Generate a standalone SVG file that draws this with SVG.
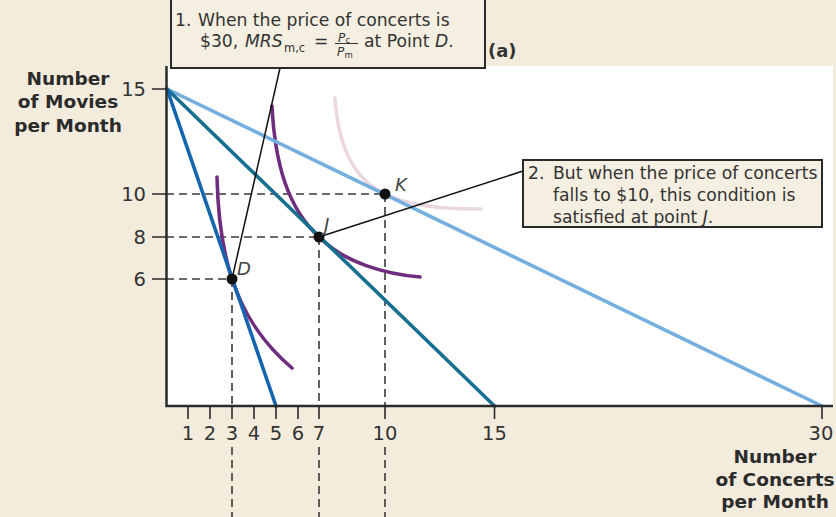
<svg xmlns="http://www.w3.org/2000/svg" width="836" height="517" viewBox="0 0 836 517">
<defs>
<style>
.txt{font-family:"DejaVu Sans","Open Sans","Liberation Sans",sans-serif;fill:#333;}
.call{font-size:17.2px;}
.tick{font-size:19.5px;}
.title{font-size:18.5px;font-weight:bold;fill:#2b2b2b;}
.lbl{font-size:18px;font-style:italic;fill:#444;}
.dash{stroke:#3a3a3a;stroke-width:1.6;stroke-dasharray:8 5;fill:none;}
.axis{stroke:#2a2a2a;stroke-width:2.5;fill:none;}
.tk{stroke:#2a2a2a;stroke-width:1.6;}
.budget{stroke-width:3.6;fill:none;stroke-linecap:round;}
.ic{stroke-width:3.6;fill:none;stroke-linecap:round;}
.leader{stroke:#111;stroke-width:1.5;fill:none;}
.box{fill:#f5efe1;stroke:#2a2a2a;stroke-width:2;}
.dot{fill:#111;}
</style>
</defs>
<rect x="0" y="0" width="836" height="517" fill="#f3ecdc"/>
<rect id="plot-area" x="167" y="66" width="666" height="340" fill="#ffffff"/>

<g id="guides">
<path class="dash" d="M166,194 H385 M166,237 H319 M166,279 H232"/>
<path class="dash" d="M232,279 V406 M319,237 V406 M385,194 V406"/>
<path class="dash" d="M232,447 V517 M319,447 V517 M385,447 V517"/>
</g>

<g id="indifference-curves">
<path id="curve-K" class="ic" stroke="#ecd7e0" d="M335,98 C338,145 353,179 385,194 C410,206.5 445,209 481,209"/>
<path id="curve-J" class="ic" stroke="#6e2d7f" d="M272,106 C275,165 288,208 319,237 C345,263 385,274 420,277"/>
<path id="curve-D" class="ic" stroke="#6e2d7f" d="M217,177 C218,220 224,255 232,279 C245,318 265,345 292,368"/>
</g>

<g id="budget-lines">
<line id="budget-30" class="budget" stroke="#74afe0" x1="167" y1="89" x2="822" y2="406"/>
<line id="budget-15" class="budget" stroke="#17708f" x1="167" y1="89" x2="494.5" y2="406"/>
<line id="budget-5" class="budget" stroke="#1565ae" x1="167" y1="89" x2="276" y2="406"/>
</g>

<g id="axes">
<path class="axis" d="M166.5,66 V406 H833"/>
<path class="tk" d="M152,89 H166 M152,194 H166 M152,237 H166 M152,279 H166"/>
<path class="tk" d="M188,406 V419 M210,406 V419 M232,406 V419 M254,406 V419 M276,406 V419 M298,406 V419 M319,406 V419 M385,406 V419 M494.5,406 V419 M822,406 V419"/>
<g class="txt tick" text-anchor="end">
<text x="146" y="96">15</text>
<text x="146" y="201">10</text>
<text x="146" y="244">8</text>
<text x="146" y="286">6</text>
</g>
<g class="txt tick" text-anchor="middle">
<text x="188" y="440">1</text>
<text x="210" y="440">2</text>
<text x="232" y="440">3</text>
<text x="254" y="440">4</text>
<text x="276" y="440">5</text>
<text x="298" y="440">6</text>
<text x="319" y="440">7</text>
<text x="385" y="440">10</text>
<text x="494.5" y="440">15</text>
<text x="821" y="440">30</text>
</g>
<text id="y-title" class="txt title" text-anchor="middle"><tspan x="68" y="85">Number</tspan><tspan x="68" y="108">of Movies</tspan><tspan x="68" y="132">per Month</tspan></text>
<text id="x-title" class="txt title" text-anchor="middle"><tspan x="775" y="463">Number</tspan><tspan x="775" y="486">of Concerts</tspan><tspan x="775" y="508">per Month</tspan></text>
</g>

<g id="connectors">
<line class="leader" x1="280" y1="68" x2="232" y2="279"/>
<line class="leader" x1="319" y1="237" x2="523" y2="171"/>
</g>

<g id="point-D">
<circle class="dot" cx="232" cy="279" r="5.5"/>
<text class="txt lbl" x="237" y="275">D</text>
</g>
<g id="point-J">
<circle class="dot" cx="319" cy="237" r="5.5"/>
<text class="txt lbl" x="324" y="231">J</text>
</g>
<g id="point-K">
<circle class="dot" cx="385" cy="194" r="5.5"/>
<text class="txt lbl" x="395" y="191">K</text>
</g>

<g id="callout-1">
<rect class="box" x="171" y="-2" width="314" height="70"/>
<line x1="335" y1="43.5" x2="358" y2="43.5" stroke="#333" stroke-width="1"/>
<text class="txt call"><tspan x="175" y="26">1.</tspan><tspan x="198" y="26">When the price of concerts is</tspan><tspan x="200" y="47">$30,</tspan><tspan x="245" y="47" font-style="italic">MRS</tspan><tspan x="284" y="52" font-size="11.5">m,c</tspan><tspan x="314" y="47">=</tspan><tspan x="338" y="41.5" font-size="12" font-style="italic">P</tspan><tspan x="345.5" y="43" font-size="8.5">c</tspan><tspan x="337" y="56" font-size="12" font-style="italic">P</tspan><tspan x="344.5" y="57.5" font-size="8.5">m</tspan><tspan x="364" y="47">at Point </tspan><tspan font-style="italic">D</tspan><tspan>.</tspan></text>
</g>

<g id="label-a">
<text class="txt" x="488" y="57" font-size="18" font-weight="bold" fill="#2b2b2b">(a)</text>
</g>

<g id="callout-2">
<rect class="box" x="523" y="160" width="299" height="67"/>
<text class="txt call"><tspan x="528" y="179">2.</tspan><tspan x="553" y="179">But when the price of concerts</tspan><tspan x="553" y="201">falls to $10, this condition is</tspan><tspan x="553" y="223">satisfied at point </tspan><tspan font-style="italic">J</tspan><tspan>.</tspan></text>
</g>
</svg>
